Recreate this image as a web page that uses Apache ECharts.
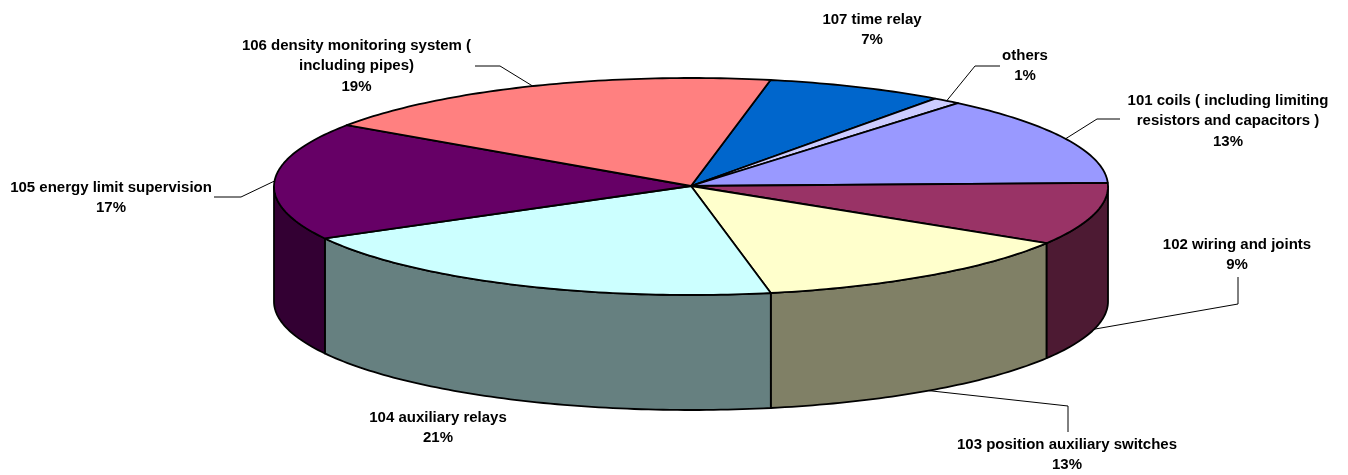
<!DOCTYPE html>
<html>
<head>
<meta charset="utf-8">
<style>html,body{margin:0;padding:0;background:#fff}#c{width:1348px;height:475px}</style>
<script src="https://cdn.jsdelivr.net/npm/echarts@6/dist/echarts.min.js"></script>
</head>
<body>
<div id="c"></div>
<script>
// Data, clockwise from the 107 / 106 boundary
const categories = ['107 time relay', 'others', '101 coils ( including limiting\nresistors and capacitors )', '102 wiring and joints', '103 position auxiliary switches', '104 auxiliary relays', '105 energy limit supervision', '106 density monitoring system (\nincluding pipes)'];
const printedPercents = [7, 1, 13, 9, 13, 21, 17, 19];
// slice sizes as measured on the drawn ellipse (the perspective of the original shifts them slightly from the printed figures)
const shares = [6.9, 1.1, 13.4, 9.3, 13.18, 20.12, 17.5, 18.5];
const topColors = ['#0066CC', '#CCCCFF', '#9999FF', '#993366', '#FFFFCC', '#CCFFFF', '#660066', '#FF8080'];
const sideColors = ['#003366', '#666680', '#4D4D80', '#4D1A33', '#808066', '#668080', '#330033', '#804040'];

// Layout
const startDeg = 11, cx = 691, cy = 186.5, rx = 417, ry = 108.5, depth = 115;
const labelCenters = [[872, 30], [1025, 66], [1228, 121], [1237, 255], [1067, 455], [438, 428], [111, 198], [356.5, 66]];
const leaderElbows = [null, [[975, 66], [1000, 66]], [[1097, 119], [1120, 119]], [[1238, 304], [1238, 277]], [[1068, 406], [1068, 432]], null, [[241, 197], [214, 197]], [[500, 66], [475, 66]]];

const total = shares.reduce((a, b) => a + b, 0);
function pt(deg, drop) {
  const r = deg * Math.PI / 180;
  return [cx + rx * Math.sin(r), cy - ry * Math.cos(r) + (drop || 0)];
}
function arc(a, b, drop) {
  const pts = [];
  const n = Math.max(2, Math.ceil(Math.abs(b - a)));
  for (let i = 0; i <= n; i++) pts.push(pt(a + (b - a) * i / n, drop));
  return pts;
}
function frontDrop(deg) {
  const norm = ((deg % 360) + 360) % 360;
  return norm > 90 && norm < 270 ? depth : 0;
}
const sliceLine = { stroke: '#000', lineWidth: 1.8, lineJoin: 'round' };

function renderSlice(params, api) {
  const i = params.dataIndex;
  const before = shares.slice(0, i).reduce((a, b) => a + b, 0);
  const a0 = startDeg + before / total * 360;
  const a1 = a0 + api.value(0) / total * 360;
  const children = [];
  const s0 = Math.max(a0, 90), s1 = Math.min(a1, 270);
  if (s1 > s0) {
    children.push({
      type: 'polygon', silent: true,
      shape: { points: arc(s0, s1, 0).concat(arc(s1, s0, depth)) },
      style: Object.assign({ fill: sideColors[i] }, sliceLine)
    });
  }
  children.push({
    type: 'polygon', silent: true,
    shape: { points: [[cx, cy - 0.5]].concat(arc(a0, a1, 0)) },
    style: Object.assign({ fill: topColors[i] }, sliceLine)
  });
  const mid = (a0 + a1) / 2;
  if (leaderElbows[i]) {
    children.push({
      type: 'polyline', silent: true,
      shape: { points: [pt(mid, frontDrop(mid))].concat(leaderElbows[i]) },
      style: { stroke: '#000', lineWidth: 1, fill: null }
    });
  }
  children.push({
    type: 'text', silent: true,
    x: labelCenters[i][0], y: labelCenters[i][1],
    style: {
      text: categories[i] + '\n' + printedPercents[i] + '%',
      font: 'bold 15px "Liberation Sans", Arial, sans-serif',
      lineHeight: 20.5, fill: '#000', align: 'center', verticalAlign: 'middle'
    }
  });
  return { type: 'group', children };
}

const chart = echarts.init(document.getElementById('c'), null, { renderer: 'canvas' });
chart.setOption({
  animation: false,
  backgroundColor: '#fff',
  series: [{
    type: 'custom',
    coordinateSystem: 'none',
    renderItem: renderSlice,
    data: shares.map((v, i) => ({ name: categories[i], value: [v] }))
  }]
});
</script>
</body>
</html>
